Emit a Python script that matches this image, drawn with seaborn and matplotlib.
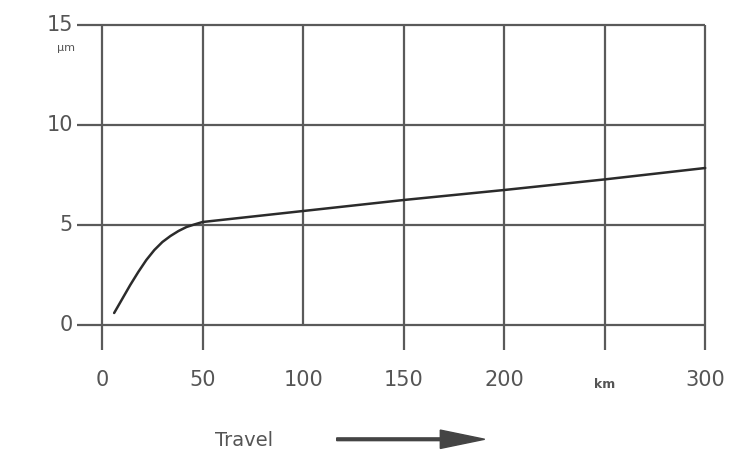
import matplotlib
matplotlib.use('Agg')
import matplotlib.pyplot as plt
import pandas as pd
import seaborn as sns

# wear curve (travel in km, wear in µm)
travel_km = [6, 10, 14, 18, 22, 26, 30, 34, 38, 42, 46, 50, 100, 150, 200, 250, 300]
wear_um = [0.6, 1.3, 2.0, 2.65, 3.25, 3.75, 4.15, 4.45, 4.7, 4.9, 5.03, 5.15,
           5.7, 6.25, 6.75, 7.28, 7.85]

x_ticks = [0, 50, 100, 150, 200, 250, 300]
x_labels = ['0', '50', '100', '150', '200', 'km', '300']
y_ticks = [0, 5, 10, 15]

df = pd.DataFrame({'Travel': travel_km, 'Wear': wear_um})

sns.set_theme(style='white')
plt.rcParams['font.family'] = ['DejaVu Sans']

fig = plt.figure(figsize=(7.4, 4.59), dpi=100)
ax = fig.add_axes([0.104, 0.2375, 0.849, 0.708])
ax.set_xlim(-12.5, 300)
ax.set_ylim(-1.25, 15)

grid_color = '#5a5a5a'
for y in y_ticks:
    ax.hlines(y, -12.5, 300, color=grid_color, lw=1.6, clip_on=False, zorder=1)
for x in x_ticks:
    bottom = 0 if x == 100 else -1.25
    ax.vlines(x, bottom, 15, color=grid_color, lw=1.6, clip_on=False, zorder=1)

sns.lineplot(data=df, x='Travel', y='Wear', ax=ax, color='#2b2b2b', lw=1.8,
             zorder=3, clip_on=False)

for spine in ax.spines.values():
    spine.set_visible(False)
ax.set_xticks([])
ax.set_yticks([])
ax.set_xlabel('')
ax.set_ylabel('')

# tick labels
text_color = '#555555'
for y in y_ticks:
    ax.text(-14.5, y, str(y), ha='right', va='center', fontsize=15, color=text_color)
for x, lab in zip(x_ticks, x_labels):
    if lab == 'km':
        ax.text(x, -3.0, lab, ha='center', va='center', fontsize=9, color=text_color,
                fontweight='bold')
    else:
        ax.text(x, -2.75, lab, ha='center', va='center', fontsize=15, color=text_color)

ax.text(-18, 13.85, 'µm', ha='center', va='center', fontsize=8, color=text_color)

# travel direction
fig.text(0.33, 0.04, 'Travel', ha='center', va='center', fontsize=14, color=text_color)
fig.patches.append(matplotlib.patches.FancyArrow(
    0.455, 0.043, 0.2, 0, width=0.006, head_width=0.04, head_length=0.06,
    length_includes_head=True, color='#444444', transform=fig.transFigure, figure=fig))

fig.savefig('out.png', dpi=100)
